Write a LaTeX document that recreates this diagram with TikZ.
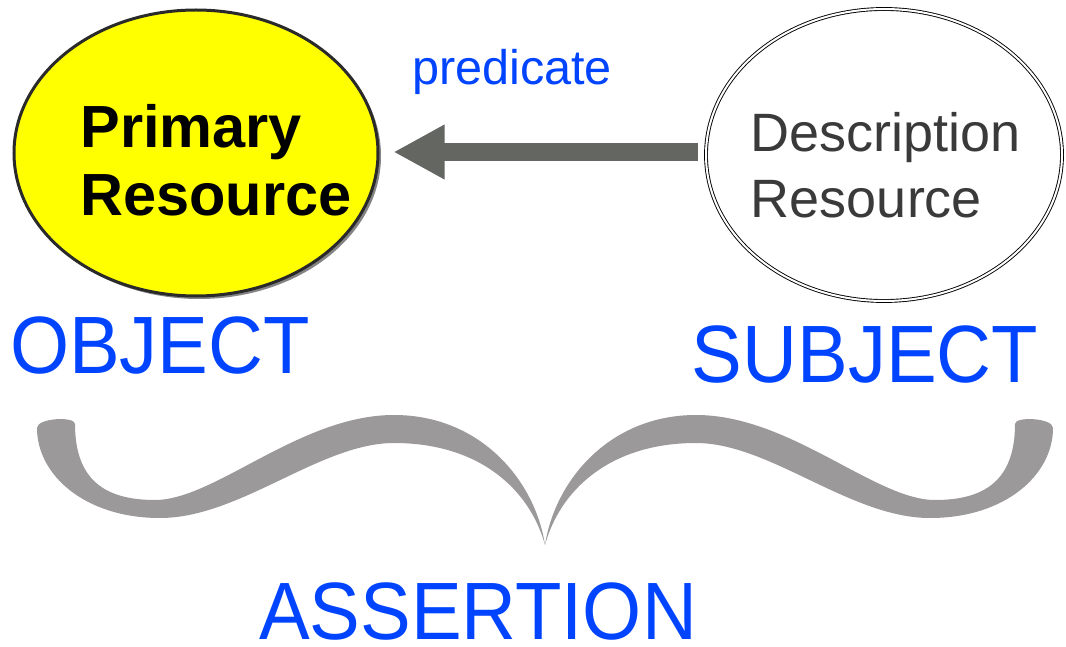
\documentclass[tikz,border=0pt]{standalone}
\usepackage{fontspec}
\setmainfont{Liberation Sans}
\usetikzlibrary{shapes.geometric,arrows.meta,shadows}
\definecolor{resyellow}{HTML}{FFFF00}
\definecolor{rimdark}{HTML}{2A2A2A}
\definecolor{arrowgray}{HTML}{646662}
\definecolor{bracegray}{HTML}{9B999A}
\definecolor{labelblue}{HTML}{0044FF}
\definecolor{textgray}{HTML}{3A3A3A}
\tikzset{
  resource/.style={ellipse, inner sep=0pt},
  bigword/.style={text=labelblue, anchor=base, inner sep=0pt,
    font=\fontsize{76}{80}\selectfont},
  linkarrow/.style={draw=arrowgray, line width=18pt,
    -{Triangle[length=51pt,width=51pt]}},
}
\begin{document}
\begin{tikzpicture}[x=1pt,y=-1pt]
  \useasboundingbox[fill=white] (0,0) rectangle (1066,647);

  % the two resources
  \node[resource, fill=resyellow, draw=rimdark, line width=3pt,
        minimum width=364pt, minimum height=286pt,
        drop shadow={shadow xshift=3pt, shadow yshift=-3pt, fill=black!60, opacity=0.8}]
        (prim) at (196,153) {};
  \node[font=\fontsize{59.5}{68}\selectfont\bfseries, align=left, inner sep=0pt]
        (primtext) at (216,160) {Primary\\Resource};

  \node[resource, draw=black, line width=0.9pt, double=white, double distance=2pt,
        minimum width=356pt, minimum height=292pt]
        (desc) at (884,155) {};
  \node[font=\fontsize{54}{66}\selectfont, text=textgray, align=left, inner sep=0pt]
        (desctext) at (886,165) {Description\\Resource};

  % predicate arrow
  \draw[linkarrow, shorten <=8pt, shorten >=14pt]
        (desc.west |- 0,152) -- (prim.east |- 0,152);
  \node[text=labelblue, anchor=base, inner sep=0pt, font=\fontsize{48.6}{55}\selectfont]
        (pred) at (512,85) {predicate};

  % role labels
  \node[bigword] (obj) at (160,373) {\scalebox{1}[1.07]{OBJECT}};
  \node[bigword] (subj) at (865,382) {\scalebox{1}[1.07]{SUBJECT}};

  % curly brace joining both roles: left half, then its mirror image
  \fill[bracegray]
    (75,424) .. controls (75,480) and (105,500) .. (155,500)
    .. controls (215,500) and (300,415) .. (394,415)
    .. controls (480,415) and (535,480) .. (545,545)
    .. controls (530,490) and (480,443) .. (394,443)
    .. controls (320,443) and (240,518) .. (160,518)
    .. controls (85,518) and (37,475) .. (37,428)
    .. controls (37,418) and (75,416) .. (75,424) -- cycle;
  \fill[bracegray]
    (1015,424) .. controls (1015,480) and (985,500) .. (935,500)
    .. controls (875,500) and (790,415) .. (696,415)
    .. controls (610,415) and (555,480) .. (545,545)
    .. controls (560,490) and (610,443) .. (696,443)
    .. controls (770,443) and (850,518) .. (930,518)
    .. controls (1005,518) and (1053,475) .. (1053,428)
    .. controls (1053,418) and (1015,416) .. (1015,424) -- cycle;

  \node[bigword] (assert) at (478,639) {\scalebox{1}[1.07]{ASSERTION}};
\end{tikzpicture}
\end{document}
